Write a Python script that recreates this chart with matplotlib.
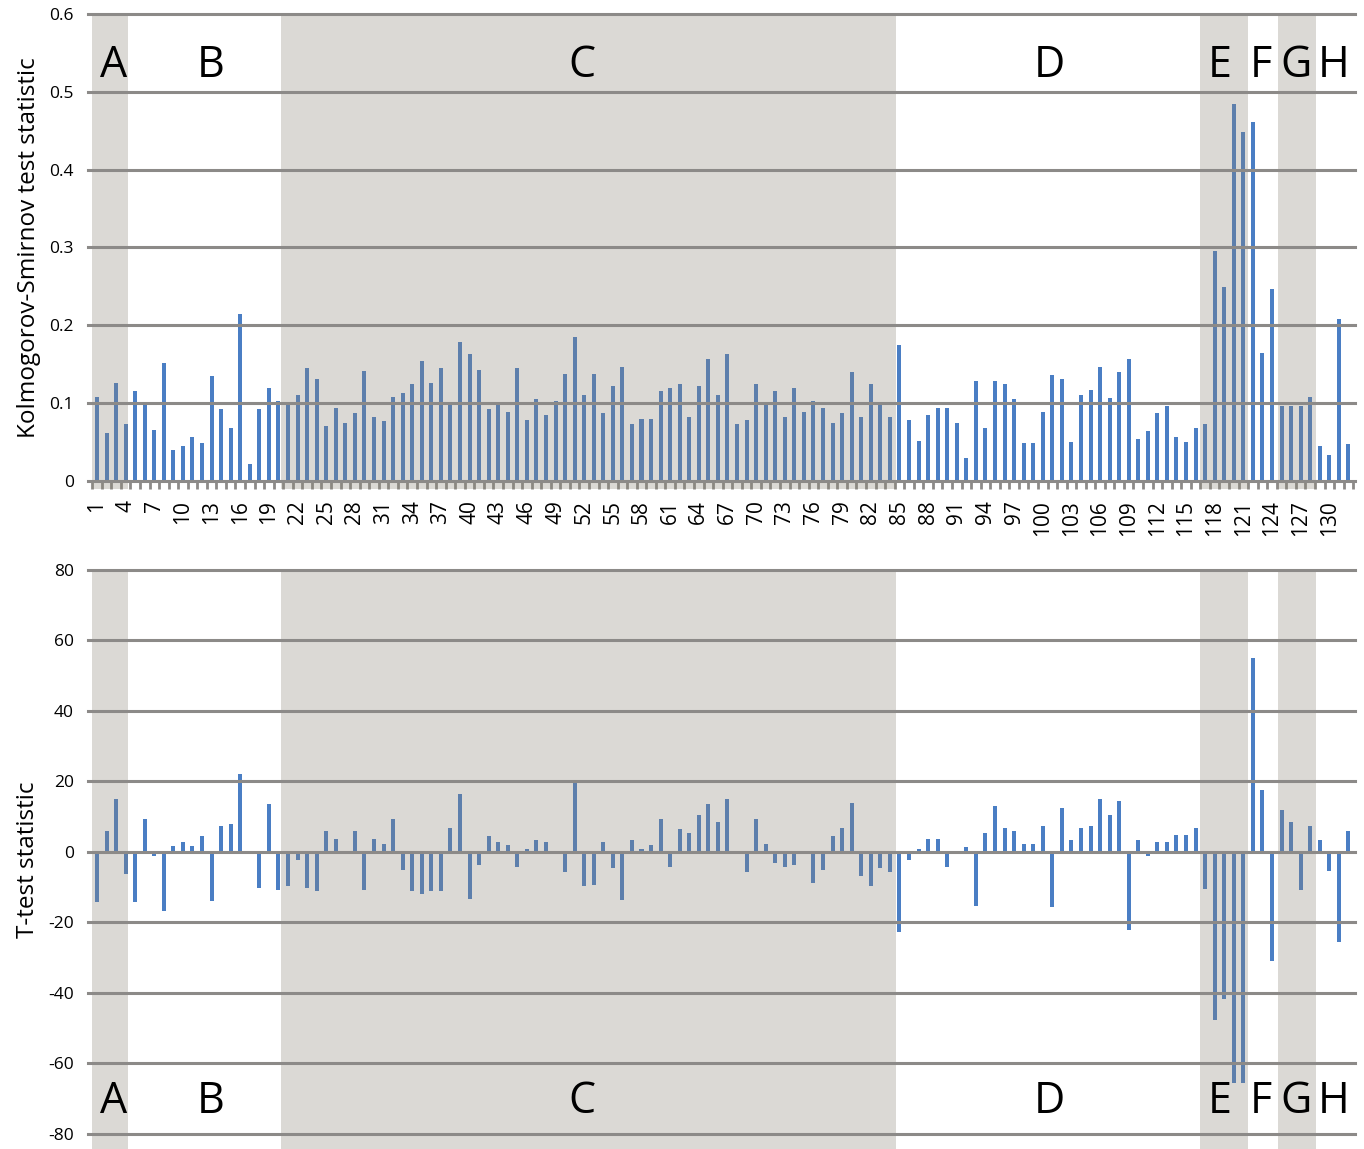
import numpy as np
import matplotlib; matplotlib.use("Agg")
import matplotlib.pyplot as plt

plt.rcParams['font.family'] = ['Open Sans', 'DejaVu Sans']
plt.rcParams['axes.unicode_minus'] = False

# ---- data (132 positions) ----
positions = np.arange(1, 133)
ks_stat = [
 0.108,0.061,0.126,0.073,0.115,0.099,0.066,0.152,0.040,0.045,
 0.057,0.049,0.135,0.092,0.068,0.215,0.022,0.092,0.119,0.103,
 0.098,0.110,0.145,0.131,0.071,0.094,0.075,0.087,0.141,0.082,
 0.077,0.108,0.113,0.124,0.154,0.126,0.145,0.100,0.178,0.163,
 0.143,0.092,0.100,0.089,0.145,0.078,0.105,0.085,0.103,0.138,
 0.185,0.110,0.138,0.087,0.122,0.147,0.073,0.080,0.080,0.115,
 0.119,0.124,0.082,0.122,0.157,0.110,0.163,0.073,0.078,0.124,
 0.098,0.115,0.082,0.119,0.089,0.103,0.094,0.075,0.087,0.140,
 0.082,0.124,0.100,0.082,0.175,0.078,0.052,0.085,0.094,0.094,
 0.075,0.029,0.129,0.068,0.129,0.124,0.105,0.049,0.049,0.089,
 0.136,0.131,0.050,0.110,0.117,0.147,0.106,0.140,0.157,0.054,
 0.064,0.087,0.096,0.057,0.050,0.068,0.073,0.296,0.249,0.484,
 0.449,0.461,0.164,0.247,0.096,0.096,0.096,0.108,0.045,0.033,
 0.208,0.047]
t_stat = [
 -14.3,5.9,15.0,-6.3,-14.3,9.4,-1.2,-16.8,1.8,2.9,
 1.8,4.4,-13.8,7.4,7.9,22.1,0.3,-10.3,13.5,-10.8,
 -9.7,-2.2,-10.3,-11.2,5.9,3.8,0.3,5.9,-10.8,3.8,
 2.3,9.4,-5.1,-11.2,-11.8,-11.2,-11.2,6.9,16.5,-13.3,
 -3.6,4.4,2.9,1.9,-4.2,0.8,3.4,2.9,-0.7,-5.7,
 19.9,-9.7,-9.3,2.9,-4.7,-13.7,3.4,0.8,1.9,9.4,
 -4.2,6.5,5.4,10.5,13.5,8.4,15.0,0.3,-5.7,9.4,
 2.3,-3.2,-4.2,-3.6,-0.7,-8.7,-5.1,4.4,6.9,13.9,
 -6.7,-9.7,-4.7,-5.7,-22.8,-2.2,0.8,3.8,3.8,-4.2,
 -0.7,1.3,-15.3,5.4,13.0,6.9,5.9,2.3,2.3,7.4,
 -15.5,12.6,3.3,6.9,7.4,15.0,10.5,14.5,-22.1,3.3,
 -1.2,2.7,2.7,4.8,4.8,6.9,-10.4,-47.8,-41.6,-65.6,
 -65.6,54.9,17.6,-30.9,11.9,8.4,-10.9,7.4,3.3,-5.4,
 -25.7,5.9]

# shaded regions (in position units) and region letters
shaded = [(0.5, 4.3), (20.3, 84.6), (116.5, 121.5), (124.6, 128.6)]
region_letters = ["A", "B", "C", "D", "E", "F", "G", "H"]
letter_pos = [2.7, 12.9, 51.8, 100.7, 118.5, 122.8, 126.5, 130.5]

BAR = "#4a7ec4"; GRID = "#8c8a88"; SHADE = "#8a8476"

fig = plt.figure(figsize=(13.64, 11.49), dpi=100)
ax1 = fig.add_axes([0.0645, 0.5814, 0.929, 0.4064])
ax2 = fig.add_axes([0.0645, 0.0, 0.929, 0.5039])
XL = (0.06, 132.7)

def style(ax, ticks):
    for s in ax.spines.values(): s.set_visible(False)
    ax.set_xlim(*XL)
    for t in ticks:
        ax.axhline(t, color=GRID, lw=2.2, zorder=4, clip_on=False)
    ax.set_yticks(ticks)
    ax.tick_params(axis="y", length=0, labelsize=12.5, pad=10)

# ---------- top: KS statistic ----------
ax1.bar(positions, ks_stat, width=0.42, color=BAR, zorder=2)
style(ax1, [0, 0.1, 0.2, 0.3, 0.4, 0.5, 0.6])
ax1.set_ylim(0, 0.6)
ax1.set_yticklabels(["0", "0.1", "0.2", "0.3", "0.4", "0.5", "0.6"])
for a, b in shaded:
    ax1.axvspan(a, b, ymin=-0.018, ymax=1, color=SHADE, alpha=0.3, lw=0, zorder=3, clip_on=False)
ax1.set_xticks(positions[::3])
ax1.set_xticklabels([str(p) for p in positions[::3]], rotation=90, fontsize=15)
ax1.set_xticks(np.arange(0.5, 133, 1), minor=True)
ax1.tick_params(axis="x", which="major", length=0, pad=14)
ax1.tick_params(axis="x", which="minor", length=6, width=2, color=GRID, direction="out")
ax1.set_ylabel("Kolmogorov-Smirnov test statistic", fontsize=17.5, labelpad=6)
for L, x in zip(region_letters, letter_pos):
    ax1.text(x, 0.533, L, ha="center", va="center", fontsize=31, zorder=5)

# ---------- bottom: t-test statistic ----------
ax2.bar(positions, t_stat, width=0.42, color=BAR, zorder=2)
style(ax2, [-80, -60, -40, -20, 0, 20, 40, 60, 80])
ax2.set_ylim(-84.3, 80)
ax2.set_xticks([])
for a, b in shaded:
    ax2.axvspan(a, b, color=SHADE, alpha=0.3, lw=0, zorder=3)
ax2.set_ylabel("T-test statistic", fontsize=17.5, labelpad=6)
for L, x in zip(region_letters, letter_pos):
    ax2.text(x, -71, L, ha="center", va="center", fontsize=31, zorder=5)

fig.savefig("out.png", dpi=100)
